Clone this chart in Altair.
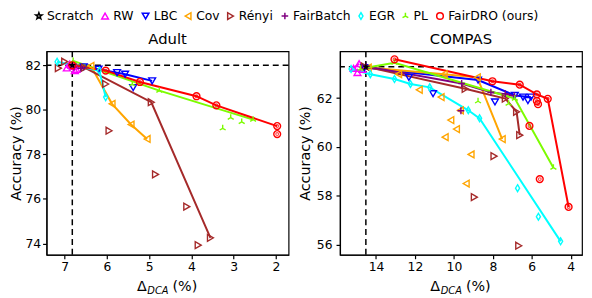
import altair as alt
import pandas as pd

methods = ["Scratch", "RW", "LBC", "Cov", "Rényi", "FairBatch", "EGR", "PL", "FairDRO (ours)"]
colors = ["#000000", "#ff00ff", "#0000ff", "#ffa500", "#a52a2a", "#800080", "#00ffff", "#7cfc00", "#ff0000"]
STAR = "M0,-1L0.235,-0.324L0.951,-0.309L0.38,0.124L0.588,0.809L0,0.4L-0.588,0.809L-0.38,0.124L-0.951,-0.309L-0.235,-0.324Z"
PLUS = "M-1,0L1,0M0,-1L0,1"
THIN_DIAMOND = "M0,-1L0.6,0L0,1L-0.6,0Z"
TRI_UP = "M0,0L0,-1M0,0L-0.87,0.5M0,0L0.87,0.5"
shapes = [STAR, "triangle-up", "triangle-down", "triangle-left", "triangle-right", PLUS, THIN_DIAMOND, TRI_UP, "circle"]

# ---------------- Adult ----------------
adult_method = (["Scratch"] + ["RW"] * 5 + ["LBC"] * 6 + ["Cov"] * 4 + ["Rényi"] * 10 + ["FairBatch"] * 2
                + ["EGR"] * 3 + ["PL"] * 7 + ["FairDRO (ours)"] * 7)
adult_x = [6.82,
           6.95, 6.80, 6.72, 6.88, 6.76,
           6.55, 6.20, 5.76, 5.57, 4.93, 5.38,
           6.38, 5.88, 5.43, 5.05,
           6.53, 4.95, 3.55, 7.00, 7.15, 6.03, 5.95, 4.85, 4.11, 3.84,
           6.78, 6.62,
           7.18, 6.18, 6.03,
           6.80, 4.76, 2.54, 5.40, 3.07, 2.81, 3.26,
           6.82, 6.03, 5.22, 3.88, 3.41, 1.97, 1.97]
adult_y = [82.00,
           81.88, 81.95, 81.82, 82.05, 81.76,
           81.93, 81.82, 81.67, 81.60, 81.30, 81.00,
           81.97, 80.27, 79.34, 78.69,
           81.89, 80.34, 74.25, 82.16, 81.87, 81.16, 79.06, 77.10, 75.65, 73.92,
           81.92, 81.86,
           82.16, 81.75, 80.57,
           82.20, 80.86, 79.56, 81.15, 79.65, 79.46, 79.17,
           82.00, 81.76, 81.25, 80.61, 80.20, 79.27, 78.91]
adult_line = [0,
              1, 1, 0, 0, 0,
              1, 1, 1, 1, 1, 0,
              1, 1, 1, 1,
              1, 1, 1, 0, 0, 0, 0, 0, 0, 0,
              1, 1,
              1, 1, 1,
              1, 1, 1, 0, 0, 0, 0,
              1, 1, 1, 1, 1, 1, 0]

# ---------------- COMPAS ----------------
compas_method = (["Scratch"] + ["RW"] * 4 + ["LBC"] * 9 + ["Cov"] * 13 + ["Rényi"] * 8 + ["FairBatch"] * 6
                 + ["EGR"] * 10 + ["PL"] * 6 + ["FairDRO (ours)"] * 10)
compas_x = [14.52,
            14.87, 14.95, 15.15, 14.70,
            14.60, 8.76, 6.87, 6.04, 12.31, 11.07, 7.89, 6.45, 6.20,
            14.40, 10.50, 8.80, 7.52, 12.84, 11.78, 10.66, 9.67, 10.16, 9.87, 10.45, 9.12, 9.37,
            14.60, 9.42, 7.36, 6.78, 6.62, 7.94, 8.95, 6.67,
            14.50, 9.60, 8.10, 6.90, 9.64, 7.36,
            15.28, 14.29, 13.05, 12.23, 11.24, 9.26, 8.68, 4.52, 6.73, 5.66,
            14.80, 13.05, 6.87, 4.89, 8.76, 7.19,
            13.05, 8.02, 6.62, 5.74, 5.18, 4.11, 5.74, 5.68, 6.12, 5.59]
compas_y = [63.28,
            63.41, 63.05, 63.22, 63.18,
            63.25, 62.74, 62.11, 62.04, 62.85, 62.18, 61.84, 62.04, 61.90,
            63.25, 62.98, 62.85, 60.32, 62.98, 62.34, 62.04, 61.50, 61.10, 60.73, 60.40, 59.69, 58.50,
            63.30, 62.38, 61.98, 61.44, 60.48, 59.62, 57.94, 55.95,
            63.30, 62.60, 62.24, 62.10, 61.48, 62.18,
            63.19, 62.98, 62.78, 62.58, 62.44, 61.50, 61.17, 56.13, 58.31, 57.14,
            63.20, 63.45, 61.98, 59.15, 61.87, 61.77,
            63.59, 62.69, 62.55, 62.15, 61.97, 57.54, 61.88, 61.75, 60.86, 58.68]
compas_line = [0,
               1, 0, 1, 0,
               1, 1, 1, 1, 0, 0, 0, 0, 0,
               1, 1, 1, 1, 0, 0, 0, 0, 0, 0, 0, 0, 0,
               1, 1, 1, 1, 1, 0, 0, 0,
               1, 1, 1, 1, 0, 0,
               1, 1, 1, 1, 1, 1, 1, 1, 0, 0,
               1, 1, 1, 1, 0, 0,
               1, 1, 1, 1, 1, 1, 0, 0, 0, 0]

H = 206
FONT = "DejaVu Sans"
cscale = alt.Scale(domain=methods, range=colors)
sscale = alt.Scale(domain=methods, range=shapes)


def panel(meth, xs, ys, ln, title, xdom, xticks, ydom, yticks, rx, ry, w, tpad, lpad):
    df = pd.DataFrame({"method": meth, "x": xs, "y": ys, "line": ln})
    xenc = alt.X("x:Q", scale=alt.Scale(domain=xdom, nice=False, zero=False),
                 axis=alt.Axis(values=xticks, title=None, format="d"))
    yenc = alt.Y("y:Q", scale=alt.Scale(domain=ydom, nice=False, zero=False),
                 axis=alt.Axis(values=yticks, title="Accuracy (%)", titlePadding=tpad, labelPadding=lpad, format="d"))
    base = alt.Chart(df)
    hrule = alt.Chart(pd.DataFrame({"y": [ry]})).mark_rule(color="black", strokeDash=[6, 4], strokeWidth=1.5).encode(
        y=alt.Y("y:Q", title="Accuracy (%)"))
    vrule = alt.Chart(pd.DataFrame({"x": [rx]})).mark_rule(color="black", strokeDash=[6, 4], strokeWidth=1.5).encode(
        x=alt.X("x:Q", title=None))
    lines = base.transform_filter("datum.line == 1").mark_line(strokeWidth=2).encode(
        x=xenc, y=yenc, color=alt.Color("method:N", scale=cscale, title=None), detail="method:N")
    pts = base.mark_point(filled=False, size=48, strokeWidth=1.4, opacity=1).encode(
        x=xenc, y=yenc,
        color=alt.Color("method:N", scale=cscale, title=None),
        shape=alt.Shape("method:N", scale=sscale, title=None))
    inner = base.transform_filter("datum.method == 'FairDRO (ours)'").mark_point(
        filled=False, size=8, strokeWidth=1.2, color="#ff0000", shape="circle").encode(x=xenc, y=yenc)
    star = base.transform_filter("datum.method == 'Scratch'").mark_point(
        filled=True, size=60, color="black", shape=STAR, opacity=1).encode(x=xenc, y=yenc)
    cx = w / 2
    tdf = pd.DataFrame({"a": [0]})
    t1 = alt.Chart(tdf).mark_text(text="Δ", font=FONT, fontSize=14.5, align="left", baseline="alphabetic",
                                  color="black").encode(x=alt.value(cx - 31), y=alt.value(H + 37))
    t2 = alt.Chart(tdf).mark_text(text="DCA", font=FONT, fontSize=10, fontStyle="italic", align="left",
                                  baseline="alphabetic", color="black").encode(x=alt.value(cx - 20.5), y=alt.value(H + 40))
    t3 = alt.Chart(tdf).mark_text(text="(%)", font=FONT, fontSize=14.5, align="left", baseline="alphabetic",
                                  color="black").encode(x=alt.value(cx + 5), y=alt.value(H + 37))
    return alt.layer(hrule, vrule, lines, pts, inner, star, t1, t2, t3).properties(
        width=w, height=H,
        title=alt.Title(title, fontSize=15, font=FONT, fontWeight="normal", color="black", offset=4))


adult = panel(adult_method, adult_x, adult_y, adult_line, "Adult", [7.43, 1.70], [7, 6, 5, 4, 3, 2],
              [73.49, 82.63], [74, 76, 78, 80, 82], 6.82, 82.0, 245, 1, 2)
compas = panel(compas_method, compas_x, compas_y, compas_line, "COMPAS", [15.85, 3.42], [14, 12, 10, 8, 6, 4],
               [55.58, 63.92], [56, 58, 60, 62], 14.52, 63.28, 245, 4, 4)

chart = alt.hconcat(adult, compas, spacing=6).properties(
    padding={"left": 0, "top": 0, "right": 0, "bottom": 0}
).configure(font=FONT).configure_axis(
    labelFontSize=12.5, titleFontSize=14.5, labelFont=FONT, titleFont=FONT, labelColor="black",
    titleColor="black", tickColor="black", domainColor="black", tickSize=4, grid=False,
    titleFontWeight="normal", domainWidth=1.2, tickWidth=1.2
).configure_legend(
    orient="none", legendX=-14, legendY=-42, direction="horizontal", columns=9,
    labelFontSize=12.5, labelFont=FONT, labelColor="black",
    symbolSize=45, symbolStrokeWidth=1.5, columnPadding=4, labelOffset=2, padding=0
).configure_view(stroke="black", strokeWidth=1.2)

chart.save("out.html", embed_options={"renderer": "svg", "actions": False})
